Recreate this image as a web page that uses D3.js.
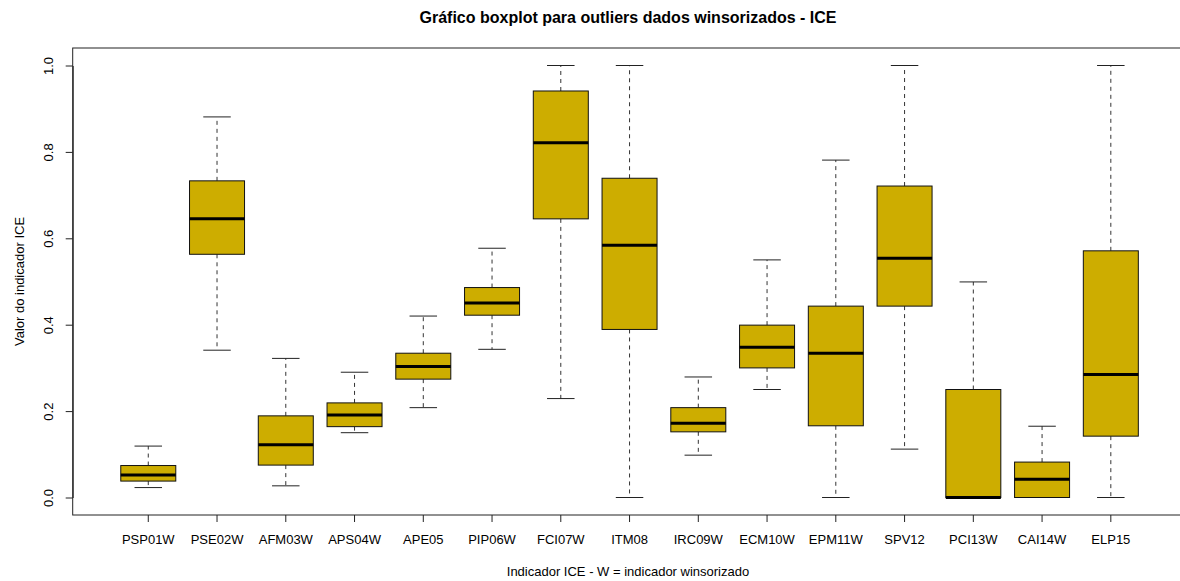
<!DOCTYPE html>
<html>
<head>
<meta charset="utf-8">
<script src="https://cdn.jsdelivr.net/npm/d3@7"></script>
<style>
  body { margin: 0; background: #fff; }
  svg text { font-family: "Liberation Sans", Arial, sans-serif; fill: #000; }
</style>
</head>
<body>
<div id="chart"></div>
<script>
// indicators on the x axis
const categories = ["PSP01W", "PSE02W", "AFM03W", "APS04W", "APE05", "PIP06W", "FCI07W",
  "ITM08", "IRC09W", "ECM10W", "EPM11W", "SPV12", "PCI13W", "CAI14W", "ELP15"];

// five number summary for each indicator
const lower   = [0.023, 0.341, 0.027, 0.150, 0.208, 0.343, 0.229, 0.000, 0.098, 0.250, 0.000, 0.112, 0.000, 0.000, 0.000];
const q1      = [0.038, 0.563, 0.075, 0.164, 0.274, 0.422, 0.645, 0.389, 0.152, 0.300, 0.166, 0.443, 0.000, 0.000, 0.142];
const medians = [0.052, 0.645, 0.122, 0.191, 0.303, 0.450, 0.821, 0.584, 0.172, 0.348, 0.334, 0.554, 0.000, 0.042, 0.285];
const q3      = [0.074, 0.733, 0.189, 0.219, 0.334, 0.486, 0.941, 0.739, 0.208, 0.399, 0.443, 0.721, 0.250, 0.082, 0.571];
const upper   = [0.119, 0.881, 0.322, 0.290, 0.420, 0.577, 1.000, 1.000, 0.279, 0.550, 0.781, 1.000, 0.499, 0.165, 1.000];

const yTicks = [0, 0.2, 0.4, 0.6, 0.8, 1.0];

const title = "Gráfico boxplot para outliers dados winsorizados - ICE";
const xTitle = "Indicador ICE - W = indicador winsorizado";
const yTitle = "Valor do indicador ICE";

// build rows for d3
let data = categories.map(function(c, i) {
  return {name: c, lo: lower[i], q1: q1[i], med: medians[i], q3: q3[i], hi: upper[i]};
});

let width = 1180, height = 581;
let frame = {left: 72.7, right: 1186, top: 48, bottom: 515};

let svg = d3.select("#chart")
  .append("svg")
    .attr("width", width)
    .attr("height", height);

svg.append("rect").attr("width", width).attr("height", height).attr("fill", "#fff");

// scales
let x = d3.scaleBand()
    .domain(categories)
    .range([113.9, 1145.2])
    .paddingInner(0.2)
    .paddingOuter(0.1);

let y = d3.scaleLinear()
    .domain([0, 1])
    .range([497.5, 65.5]);

let bw = x.bandwidth();

// boxes
let g = svg.append("g")
  .selectAll("g")
  .data(data)
  .enter().append("g")
    .attr("transform", function(d) { return "translate(" + x(d.name) + ",0)"; });

// whiskers (dashed)
g.append("line")
  .attr("x1", bw / 2).attr("x2", bw / 2)
  .attr("y1", function(d) { return y(d.q3); })
  .attr("y2", function(d) { return y(d.hi); })
  .attr("stroke", "#333").attr("stroke-dasharray", "4,4");
g.append("line")
  .attr("x1", bw / 2).attr("x2", bw / 2)
  .attr("y1", function(d) { return y(d.q1); })
  .attr("y2", function(d) { return y(d.lo); })
  .attr("stroke", "#333").attr("stroke-dasharray", "4,4");

// staples, half the box width
g.selectAll(".staple")
  .data(function(d) { return [d.lo, d.hi]; })
  .enter().append("line")
    .attr("x1", bw / 4).attr("x2", bw * 3 / 4)
    .attr("y1", function(v) { return y(v); })
    .attr("y2", function(v) { return y(v); })
    .attr("stroke", "#222");

g.append("rect")
  .attr("x", 0)
  .attr("y", function(d) { return y(d.q3); })
  .attr("width", bw)
  .attr("height", function(d) { return y(d.q1) - y(d.q3); })
  .attr("fill", "#CDAD00")
  .attr("stroke", "#111");

g.append("line")
  .attr("x1", 0).attr("x2", bw)
  .attr("y1", function(d) { return y(d.med); })
  .attr("y2", function(d) { return y(d.med); })
  .attr("stroke", "#000").attr("stroke-width", 3);

// axes
let xAxis = svg.append("g")
  .attr("transform", "translate(0," + frame.bottom + ")")
  .call(d3.axisBottom(x).tickSize(7).tickSizeOuter(0));
xAxis.select(".domain").remove();
xAxis.selectAll("text")
  .attr("y", 29).attr("dy", null)
  .style("font-size", "13px");

let yAxis = svg.append("g")
  .attr("transform", "translate(" + frame.left + ",0)")
  .call(d3.axisLeft(y).tickValues(yTicks).tickFormat(d3.format(".1f")).tickSize(7).tickSizeOuter(0));
yAxis.selectAll("text")
  .attr("transform", "rotate(-90)")
  .attr("x", 0).attr("y", -20).attr("dy", null)
  .attr("text-anchor", "middle")
  .style("font-size", "13px");
svg.selectAll(".tick line").attr("stroke", "#222");
yAxis.select(".domain").attr("stroke", "#222");

// plot frame
svg.append("rect")
  .attr("x", frame.left)
  .attr("y", frame.top)
  .attr("width", frame.right - frame.left)
  .attr("height", frame.bottom - frame.top)
  .attr("fill", "none")
  .attr("stroke", "#222");

// titles
svg.append("text")
  .attr("x", 628).attr("y", 23)
  .attr("text-anchor", "middle")
  .style("font-size", "16px").style("font-weight", "bold")
  .text(title);

svg.append("text")
  .attr("x", 628).attr("y", 576)
  .attr("text-anchor", "middle")
  .style("font-size", "13px")
  .text(xTitle);

svg.append("text")
  .attr("transform", "translate(24," + (frame.top + frame.bottom) / 2 + ") rotate(-90)")
  .attr("text-anchor", "middle")
  .style("font-size", "13px")
  .text(yTitle);
</script>
</body>
</html>
